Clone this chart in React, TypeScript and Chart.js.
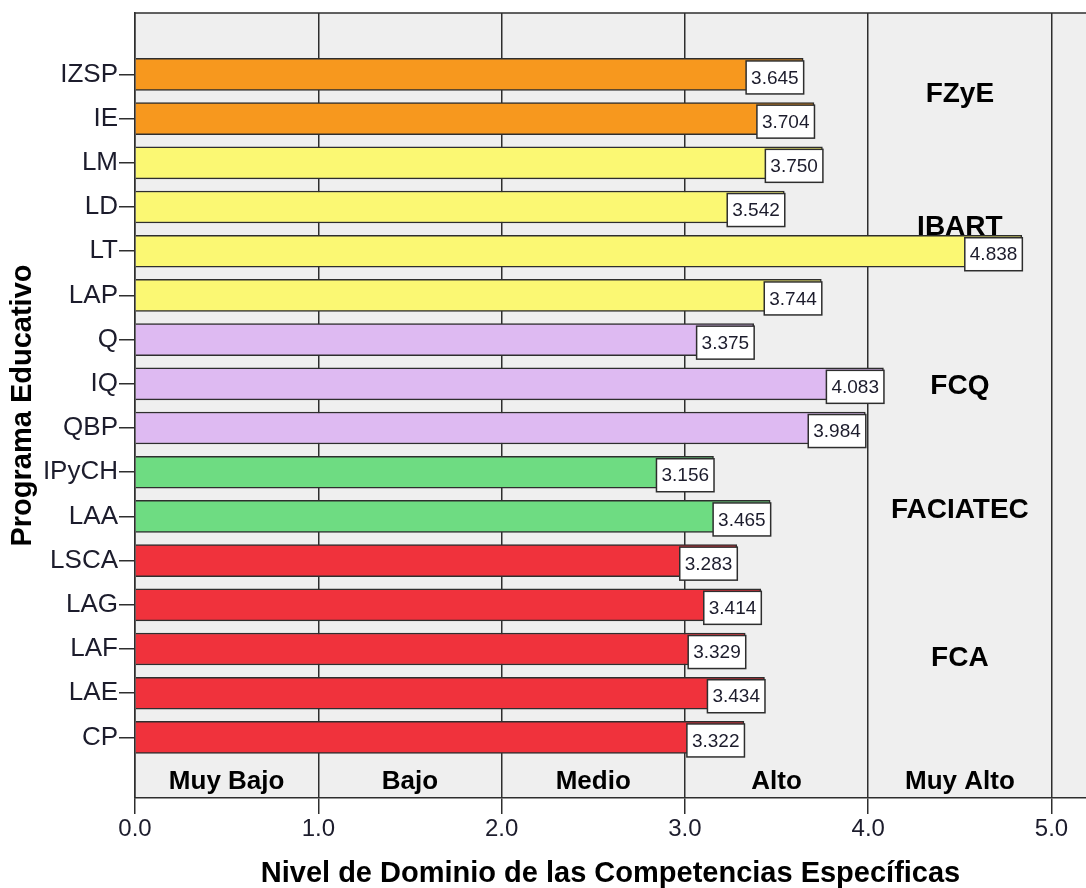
import React, { useEffect, useRef } from 'react';
import { Chart, registerables } from 'chart.js';

Chart.register(...registerables);

const programs = ['IZSP', 'IE', 'LM', 'LD', 'LT', 'LAP', 'Q', 'IQ', 'QBP', 'IPyCH', 'LAA', 'LSCA', 'LAG', 'LAF', 'LAE', 'CP'];
const scores = [3.645, 3.704, 3.75, 3.542, 4.838, 3.744, 3.375, 4.083, 3.984, 3.156, 3.465, 3.283, 3.414, 3.329, 3.434, 3.322];
const programFaculty = ['FZyE', 'FZyE', 'IBART', 'IBART', 'IBART', 'IBART', 'FCQ', 'FCQ', 'FCQ', 'FACIATEC', 'FACIATEC', 'FCA', 'FCA', 'FCA', 'FCA', 'FCA'];
const faculties = ['FZyE', 'IBART', 'FCQ', 'FACIATEC', 'FCA'];
const facultyLabelRow = [0.45, 3.45, 7.05, 9.85, 13.2];
const facultyLabelX = [4.5, 4.5, 4.5, 4.5, 4.5];
const levelLabels = ['Muy Bajo', 'Bajo', 'Medio', 'Alto', 'Muy Alto'];
const levelLabelRow = 16;
const xTickValues = [0, 1, 2, 3, 4, 5];
const xTitle = 'Nivel de Dominio de las Competencias Específicas';
const yTitle = 'Programa Educativo';

const facultyColors: Record<string, string> = {
  FZyE: '#F7981E',
  IBART: '#FBF873',
  FCQ: '#DEBAF2',
  FACIATEC: '#6EDC82',
  FCA: '#F0323C',
};

const FONT = '"Liberation Sans", Arial, sans-serif';
const LINE = '#2e2e2e';

const decor = {
  id: 'decor',
  beforeDraw(chart: any) {
    const { ctx, chartArea: a } = chart;
    ctx.save();
    ctx.fillStyle = '#EFEFEF';
    ctx.fillRect(a.left, a.top, a.right - a.left, a.bottom - a.top);
    ctx.restore();
  },
  beforeDatasetsDraw(chart: any) {
    const { ctx } = chart;
    const xs = chart.scales.x;
    const ys = chart.scales.y;
    ctx.save();
    ctx.fillStyle = '#000';
    ctx.textAlign = 'center';
    ctx.textBaseline = 'middle';
    ctx.font = `bold 28px ${FONT}`;
    faculties.forEach((f, i) => {
      ctx.fillText(f, xs.getPixelForValue(facultyLabelX[i]), ys.getPixelForValue(facultyLabelRow[i]));
    });
    ctx.font = `bold 26px ${FONT}`;
    levelLabels.forEach((l, i) => {
      ctx.fillText(l, xs.getPixelForValue(i + 0.5), ys.getPixelForValue(levelLabelRow));
    });
    ctx.restore();
  },
  afterDatasetsDraw(chart: any) {
    const { ctx } = chart;
    const meta = chart.getDatasetMeta(0);
    ctx.save();
    ctx.font = `19px ${FONT}`;
    ctx.textAlign = 'center';
    ctx.textBaseline = 'middle';
    meta.data.forEach((el: any, i: number) => {
      const txt = scores[i].toFixed(3);
      const w = ctx.measureText(txt).width + 10;
      const h = 33;
      const right = el.x + 0.5;
      const top = el.y - 13.5;
      ctx.fillStyle = '#FFFFFF';
      ctx.fillRect(right - w, top, w, h);
      ctx.strokeStyle = LINE;
      ctx.lineWidth = 1.5;
      ctx.strokeRect(right - w, top, w, h);
      ctx.fillStyle = '#1c1c2c';
      ctx.fillText(txt, right - w / 2, top + h / 2 + 1);
    });
    ctx.restore();
  },
  afterDraw(chart: any) {
    const { ctx, chartArea: a } = chart;
    ctx.save();
    ctx.strokeStyle = LINE;
    ctx.lineWidth = 1.5;
    ctx.beginPath();
    ctx.moveTo(a.left, a.top);
    ctx.lineTo(a.right, a.top);
    ctx.stroke();
    ctx.restore();
  },
};

export default function App() {
  const ref = useRef<HTMLCanvasElement | null>(null);

  useEffect(() => {
    document.body.style.margin = '0';
    document.body.style.overflow = 'hidden';
    const canvas = ref.current;
    if (!canvas) return;
    const chart = new Chart(canvas, {
      type: 'bar',
      data: {
        datasets: [
          {
            data: scores.map((s, i) => ({ x: s, y: i })),
            backgroundColor: programFaculty.map((f) => facultyColors[f]),
            borderColor: LINE,
            borderWidth: 1.5,
            barThickness: 32,
          } as any,
        ],
      },
      options: {
        indexAxis: 'y',
        animation: false,
        responsive: false,
        maintainAspectRatio: false,
        layout: { padding: { top: 13, left: 0, right: 0, bottom: 0 } },
        plugins: {
          legend: { display: false },
          tooltip: { enabled: false },
        },
        scales: {
          x: {
            type: 'linear',
            min: 0,
            max: 5.188,
            offset: false,
            afterBuildTicks: (scale: any) => {
              scale.ticks = xTickValues.map((v) => ({ value: v }));
            },
            afterFit: (scale: any) => {
              scale.height = 90;
              scale.paddingLeft = 0;
              scale.paddingRight = 0;
            },
            ticks: {
              callback: (v: any) => Number(v).toFixed(1),
              font: { family: FONT, size: 24 },
              color: '#1c1c2c',
              padding: 1,
              maxRotation: 0,
            },
            grid: {
              display: true,
              offset: false,
              drawOnChartArea: true,
              drawTicks: true,
              tickLength: 16,
              color: LINE,
              lineWidth: 1.5,
            },
            border: { display: true, color: LINE, width: 1.5 },
            title: {
              display: true,
              text: xTitle,
              font: { family: FONT, size: 29, weight: 'bold', lineHeight: 1 },
              color: '#000',
              padding: { top: 0, bottom: 0 },
            },
          },
          y: {
            type: 'linear',
            reverse: true,
            min: -1.39,
            max: 16.37,
            offset: false,
            afterBuildTicks: (scale: any) => {
              scale.ticks = programs.map((_, i) => ({ value: i }));
            },
            afterFit: (scale: any) => {
              scale.width = 135;
              scale.paddingTop = 0;
              scale.paddingBottom = 0;
            },
            ticks: {
              callback: (v: any) => programs[Number(v)] ?? '',
              font: { family: FONT, size: 26 },
              color: '#1c1c2c',
              padding: 1,
            },
            grid: {
              display: true,
              offset: false,
              drawOnChartArea: false,
              drawTicks: true,
              tickLength: 16,
              color: LINE,
              lineWidth: 1.5,
            },
            border: { display: true, color: LINE, width: 1.5 },
            title: {
              display: true,
              text: yTitle,
              font: { family: FONT, size: 29, weight: 'bold', lineHeight: 1 },
              color: '#000',
              padding: { top: 8.5, bottom: 0 },
            },
          },
        },
      } as any,
      plugins: [decor],
    });
    return () => chart.destroy();
  }, []);

  return (
    <div style={{ width: 1086, height: 888 }}>
      <canvas ref={ref} width={1086} height={888} style={{ display: 'block' }} />
    </div>
  );
}
